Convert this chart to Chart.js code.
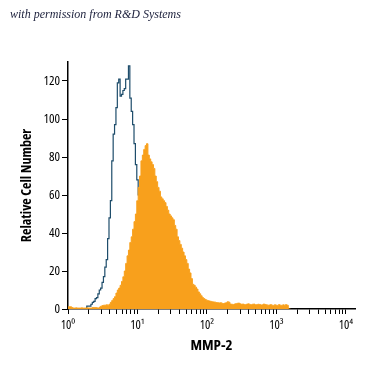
<!DOCTYPE html>
<html>
<head>
<meta charset="utf-8">
<script src="https://cdn.jsdelivr.net/npm/chart.js@4.4.1/dist/chart.umd.min.js"></script>
<style>
  html, body { margin: 0; padding: 0; background: #fff; }
  #wrap { position: relative; width: 375px; height: 375px; }
  #chart { position: absolute; left: 0; top: 0; }
  #credit {
    position: absolute; left: 10px; top: 7px;
    font: italic 12px "Liberation Serif", serif; color: #1b1f3b;
  }
</style>
</head>
<body>
<div id="wrap">
  <canvas id="chart" width="375" height="375"></canvas>
  <div id="credit">with permission from R&amp;D Systems</div>
</div>
<script>
// histogram channels: log10 width of one channel, channel 0 = 10^0
const BIN_STEP = 0.02;

// isotype control (outline), one value per channel
const isotypeCounts = [
  null, null, null, null, null, null, null, null, null, null,
  null, null, null, 0.5, 1.5, 1.5, 1.5, 2.5, 3.5, 4,
  5.5, 6, 8, 10, 11, 14, 17, 22, 26, 37,
  48, 57, 78, 92, 97, 106, 119, 121, 112, 113,
  115, 116, 121, 121, 128, 111, 104, 97, 87, 76,
  68, 60, 50, 44, 37, 30, 24, 19, 14, 10,
  7, 5, 3.5, 2.5, 1.5, 1, 0.5, 0
];

// MMP-2 stained cells (filled)
const mmp2Counts = [
  1.2, 1.2, 1.2, 0.8, 0.5, 0.5, 0.6, 0.5, 0.5, 0.5,
  0.6, 0.5, 0.5, 0.5, 0.6, 0.5, 0.5, 0.5, 0.8, 0.8,
  0.8, 0.6, 0.5, 1.0, 1.5, 1.8, 2, 2, 2.2, 2,
  2.5, 3.5, 4.5, 5.5, 6.5, 8.4, 10, 11, 12.5, 14.5,
  17, 20, 24, 28, 31, 35, 38, 42, 46, 50,
  57, 64, 70, 78, 81, 84, 86, 87, 81, 79,
  77.5, 76, 74, 70, 67, 64, 62, 59, 58, 57,
  56, 54, 52, 50, 49, 48, 47, 44, 42, 38,
  36, 34, 32, 30, 28, 26, 24, 21, 19, 16,
  13, 12.5, 11.5, 10.5, 9, 8, 7, 6, 5.5, 5,
  4.6, 4.4, 4.2, 4.0, 3.8, 3.7, 3.6, 3.4, 3.3, 3.2,
  3.3, 3.0, 2.9, 3.1, 3.3, 3.8, 3.6, 2.6, 2.5, 2.4,
  2.6, 2.8, 3.0, 3.1, 2.7, 2.5, 2.6, 2.4, 2.3, 2.6,
  2.7, 2.4, 2.3, 2.5, 2.6, 2.2, 2.3, 2.5, 2.4, 2.1,
  2.2, 2.6, 2.4, 2.2, 2.0, 2.1, 2.3, 2.0, 1.9, 2.2,
  2.0, 1.9, 2.3, 2.0, 1.9, 2.2, 2.0, 2.3, 2.0, 0,
  0
];

const majorTicks = [1, 10, 100, 1000, 10000];
const majorLabels = ['10\u2070', '10\u00b9', '10\u00b2', '10\u00b3', '10\u2074'];
const yTicks = [0, 20, 40, 60, 80, 100, 120];

const channelValues = mmp2Counts.map((_, i) => Math.pow(10, i * BIN_STEP));
const toPoints = counts => counts.map((y, i) => ({ x: channelValues[i], y }));

const axisFont = "'Open Sans', sans-serif";

new Chart(document.getElementById('chart'), {
  type: 'line',
  data: {
    datasets: [
      {
        label: 'MMP-2',
        data: toPoints(mmp2Counts),
        stepped: 'middle',
        fill: 'origin',
        backgroundColor: '#f8a01c',
        borderColor: '#f8a01c',
        borderWidth: 1,
        pointRadius: 0,
        order: 0,
      },
      {
        label: 'Isotype control',
        data: toPoints(isotypeCounts),
        stepped: 'middle',
        fill: false,
        borderColor: '#1e4d6b',
        borderWidth: 1.2,
        pointRadius: 0,
        spanGaps: false,
        order: 1,
      },
    ],
  },
  options: {
    responsive: false,
    animation: false,
    devicePixelRatio: 1,
    layout: { padding: { top: 62, right: 20, left: 0, bottom: 0 } },
    plugins: { legend: { display: false }, tooltip: { enabled: false } },
    scales: {
      x: {
        type: 'logarithmic',
        min: 1,
        max: 13500,
        afterBuildTicks: scale => {
          const ticks = [];
          majorTicks.forEach((m, k) => {
            ticks.push({ value: m });
            if (k < majorTicks.length - 1) {
              for (let d = 2; d <= 9; d++) ticks.push({ value: m * d });
            }
          });
          scale.ticks = ticks;
        },
        afterFit: scale => {
          scale.height = 66;
          scale.paddingLeft = 0;
          scale.paddingRight = 0;
        },
        ticks: {
          autoSkip: false,
          maxRotation: 0,
          padding: 4,
          color: '#000',
          font: { family: axisFont, size: 12.5, weight: 'condensed' },
          callback: value => {
            const k = majorTicks.indexOf(value);
            return k >= 0 ? majorLabels[k] : '';
          },
        },
        grid: { drawOnChartArea: false, drawTicks: true, tickLength: 5, color: '#000', lineWidth: 1 },
        border: { display: true, color: '#000', width: 1.5 },
        title: {
          display: true,
          text: 'MMP-2',
          color: '#000',
          font: { family: axisFont, size: 15, weight: 'condensed bold' },
          padding: { top: 0, bottom: 20 },
        },
      },
      y: {
        min: 0,
        max: 130,
        afterBuildTicks: scale => {
          scale.ticks = yTicks.map(v => ({ value: v }));
        },
        afterFit: scale => { scale.width = 68; },
        ticks: {
          padding: 2,
          color: '#000',
          font: { family: axisFont, size: 13, weight: 'condensed' },
        },
        grid: { drawOnChartArea: false, drawTicks: true, tickLength: 6, color: '#000', lineWidth: 1 },
        border: { display: true, color: '#000', width: 1.5 },
        title: {
          display: true,
          text: 'Relative Cell Number',
          color: '#000',
          font: { family: axisFont, size: 14, weight: 'condensed bold' },
          padding: { top: 19, bottom: 0 },
        },
      },
    },
  },
});
</script>
</body>
</html>
